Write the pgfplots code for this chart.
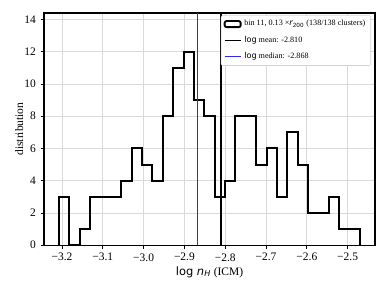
\documentclass[border=0pt]{standalone}
\usepackage{fontspec}
\setmainfont{Liberation Serif}
\newfontfamily\dejavu{DejaVu Sans}
\usepackage{pgfplots}
\pgfplotsset{compat=1.18}
\definecolor{medblue}{RGB}{40,40,255}
\begin{document}
\begin{tikzpicture}
\begin{axis}[
    name=ax,
    scale only axis,
    width=248pt, height=174pt,
    xmin=-3.244, xmax=-2.433,
    ymin=0, ymax=14.4,
    xtick={-3.2,-3.1,-3.0,-2.9,-2.8,-2.7,-2.6,-2.5},
    xticklabels={−3.2,−3.1,−3.0,−2.9,−2.8,−2.7,−2.6,−2.5},
    ytick={0,2,4,6,8,10,12,14},
    /pgf/number format/assume math mode=true,
    tick pos=left, tick align=outside,
    major tick length=2.6pt,
    grid=major, grid style={gray!30, line width=0.6pt},
    axis line style={line width=1pt},
    tick style={black, line width=0.6pt},
    ticklabel style={font=\fontsize{8.6}{10}\selectfont},
    xlabel={{\dejavu log \itshape n\textsubscript{H}} (ICM)},
    ylabel={distribution},
    label style={font=\fontsize{8.6}{10}\selectfont},
    xlabel style={yshift=3pt},
    ylabel style={yshift=-6pt},
    legend style={at={(0.988,0.99)}, anchor=north east, draw=gray!35,
        rounded corners=1.5pt, font=\fontsize{6.1}{7}\selectfont,
        inner xsep=2pt, inner ysep=1.5pt, row sep=2.2pt},
    legend cell align=left,
]
\addlegendimage{legend image code/.code={
    \draw[black, line width=1.4pt, fill=white] (0pt,-2.3pt) rectangle (12pt,2.3pt);}}
\addlegendentry{bin 11, 0.13 ×{\dejavu\itshape r}\textsubscript{\dejavu 200} (138/138 clusters)}
\addlegendimage{legend image code/.code={
    \draw[black, line width=1pt] (0pt,0pt) -- (12pt,0pt);}}
\addlegendentry{{\dejavu log} mean: -2.810}
\addlegendimage{legend image code/.code={
    \draw[medblue, line width=1.1pt] (0pt,0pt) -- (12pt,0pt);}}
\addlegendentry{{\dejavu log} median: -2.868}

% histogram, step outline: left edges with counts
\addplot[const plot mark left, black, line width=1.5pt, forget plot] coordinates {
(-3.2074,0) (-3.2074,3) (-3.1820,0) (-3.1565,1) (-3.1311,3) (-3.1056,3)
(-3.0802,3) (-3.0548,4) (-3.0293,6) (-3.0039,5) (-2.9784,4) (-2.9530,8)
(-2.9276,11) (-2.9021,12) (-2.8767,9) (-2.8512,8) (-2.8258,3) (-2.8004,4)
(-2.7749,8) (-2.7495,8) (-2.7240,5) (-2.6986,6) (-2.6732,3) (-2.6477,7)
(-2.6223,5) (-2.5968,2) (-2.5714,2) (-2.5460,3) (-2.5205,1) (-2.4951,1)
(-2.4696,1) (-2.4696,0)
};
% mean and median
\addplot[draw=black, line width=1pt, forget plot] coordinates {(-2.810,0) (-2.810,14.4)};
\addplot[draw=medblue, line width=1.4pt, forget plot] coordinates {(-2.868,0) (-2.868,14.4)};
\end{axis}
\pgfresetboundingbox
\path[use as bounding box] ([shift={(-33pt,-34.5pt)}]ax.south west) rectangle ([shift={(9.75pt,9.75pt)}]ax.north east);
\end{tikzpicture}
\end{document}
